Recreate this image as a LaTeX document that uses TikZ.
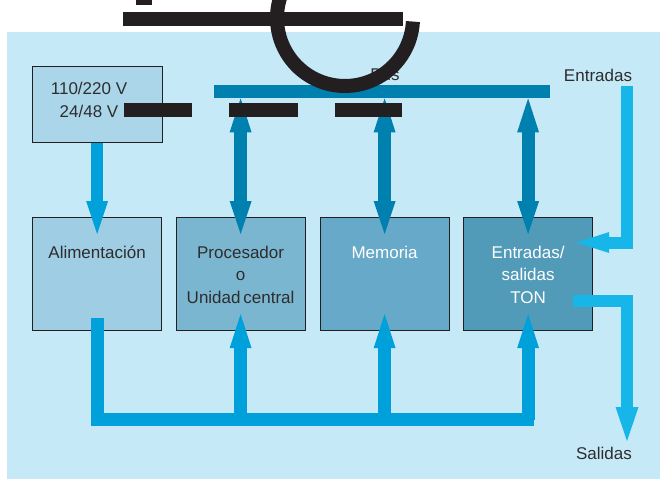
\documentclass[tikz,border=0pt]{standalone}
\usepackage{fontspec}
\setmainfont{Liberation Sans}
\usetikzlibrary{arrows.meta}
\definecolor{bgblue}{HTML}{C6E9F8}
\definecolor{vfill}{HTML}{ABD6EA}
\definecolor{alimfill}{HTML}{9ECDE4}
\definecolor{procfill}{HTML}{7BB6D1}
\definecolor{memfill}{HTML}{66A9C8}
\definecolor{iofill}{HTML}{519BB9}
\definecolor{busblue}{HTML}{0080AF}
\definecolor{midblue}{HTML}{00A0DA}
\definecolor{lightblue}{HTML}{17B6E9}
\definecolor{txtgrey}{HTML}{2D2D2D}
\definecolor{blk}{HTML}{231F20}
\begin{document}
\begin{tikzpicture}[x=1pt,y=-1pt,
  box/.style={draw=blk, line width=1.2pt, minimum width=129pt, minimum height=113pt, anchor=north west, inner sep=0pt},
  txt/.style={font=\fontsize{17}{20}\selectfont, text=txtgrey, anchor=base, inner sep=0pt},
  wtxt/.style={txt, text=white},
  busarr/.style={draw=busblue, line width=13pt, {Triangle[width=22pt,length=34pt,line width=0pt]}-{Triangle[width=22pt,length=33pt,line width=0pt]}},
  downarr/.style={draw=midblue, line width=12pt, -{Triangle[width=22pt,length=33pt,line width=0pt]}},
  botbar/.style={draw=midblue, line width=13pt, miter limit=10},
  uparr/.style={draw=midblue, line width=13pt, -{Triangle[width=22pt,length=34pt,line width=0pt]}},
  inarr/.style={draw=lightblue, line width=12pt, miter limit=10, -{Triangle[width=21pt,length=33pt,line width=0pt]}},
  outarr/.style={draw=lightblue, line width=12pt, miter limit=10, -{Triangle[width=23pt,length=34pt,line width=0pt]}},
  blkfill/.style={fill=blk}
]
\useasboundingbox (0,0) rectangle (660,479);
\fill[bgblue] (7,32) rectangle (660,479);

% boxes
\node[box, fill=vfill, minimum width=129.5pt, minimum height=75.5pt] (vbox) at (32,66) {};
\node[box, fill=alimfill] (alim) at (32,217) {};
\node[box, fill=procfill] (proc) at (175.5,217) {};
\node[box, fill=memfill] (mem) at (319.5,217) {};
\node[box, fill=iofill] (io) at (463,217) {};

% bus bar
\node[fill=busblue, minimum width=336pt, minimum height=13pt, anchor=north west, inner sep=0pt] (bus) at (214,85) {};

% labels
\node[txt] (v1) at (89,94) {110/220 V};
\node[txt] (v2) at (89,117) {24/48 V};
\node[txt] (buslbl) at (385,80) {Bus};
\node[txt] (ent) at (598,81) {Entradas};
\node[txt] (sal) at (604,459) {Salidas};
\node[txt] (alimt) at ([yshift=-41pt]alim.north) {Alimentación};
\node[txt] (proc1) at ([yshift=-41pt]proc.north) {Procesador};
\node[txt] (proc2) at ([yshift=-63.5pt]proc.north) {o};
\node[txt] (proc3) at ([yshift=-86pt]proc.north) {Unidad\,central};
\node[wtxt] (memt) at ([yshift=-41pt]mem.north) {Memoria};
\node[wtxt] (io1) at ([yshift=-41pt]io.north) {Entradas/};
\node[wtxt] (io2) at ([yshift=-63.5pt]io.north) {salidas};
\node[wtxt] (io3) at ([yshift=-86pt]io.north) {TON};

% coordinates
\coordinate (br) at (534,419.5);
\coordinate (entin) at (627,86);
\coordinate (salout) at (627,441);

% bus arrows
\draw[busarr] (bus.south -| proc.north) -- ([yshift=-17pt]proc.north);
\draw[busarr] (bus.south -| mem.north) -- ([yshift=-17pt]mem.north);
\draw[busarr] (bus.south -| io.north) -- ([yshift=-17pt]io.north);

% supply arrow
\draw[downarr] (vbox.south -| alim.north) -- ([yshift=-17pt]alim.north);

% bottom bus
\draw[botbar] ([yshift=13pt]alim.south) |- (br);
\draw[uparr] (proc.south |- br) -- ([yshift=17pt]proc.south);
\draw[uparr] (mem.south |- br) -- ([yshift=17pt]mem.south);
\draw[uparr] (io.south |- br) -- ([yshift=17pt]io.south);

% inputs / outputs
\draw[inarr] (entin) |- ([shift={(-17,25.5)}]io.north east);
\draw[outarr] ([shift={(-20,84)}]io.north east) -| (salout);

% black overlay marks
\begin{scope}
\clip (0,0) rectangle (660,479);
\fill[blkfill] (136,-1) rectangle (152,5);
\fill[blkfill] (123,12) rectangle (403,26);
\fill[blkfill] (124,103) rectangle (192,117);
\fill[blkfill] (229,103) rectangle (298,117);
\fill[blkfill] (335,103) rectangle (402,117);
\draw[draw=blk, line width=14pt] ([shift={(200:68)}]345,18) arc[start angle=200, end angle=3, radius=68];
\end{scope}
\end{tikzpicture}
\end{document}
